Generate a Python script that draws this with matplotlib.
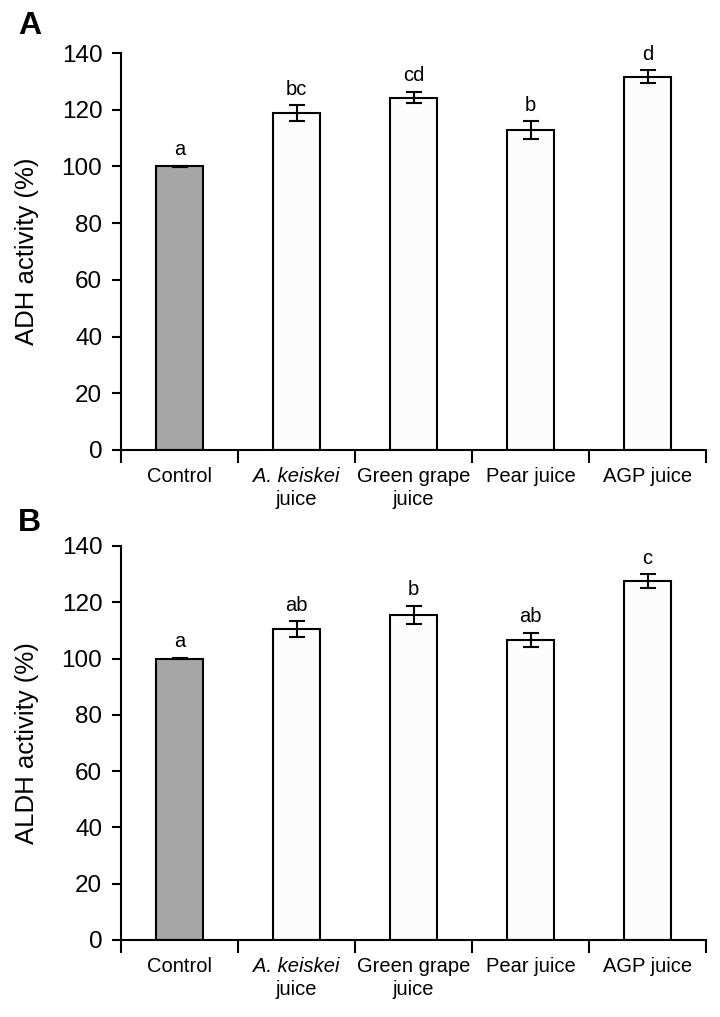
import matplotlib
matplotlib.use('Agg')
import matplotlib.pyplot as plt

plt.rcParams['font.family'] = ['Liberation Sans', 'DejaVu Sans']

categories = ['Control', 'A. keiskei', 'Green grape', 'Pear juice', 'AGP juice']
second_line = ['', 'juice', 'juice', '', '']
italic_first = [False, True, False, False, False]

adh_mean = [100.0, 118.8, 124.3, 112.8, 131.7]
adh_err = [0.3, 2.7, 2.1, 3.1, 2.3]
adh_letters = ['a', 'bc', 'cd', 'b', 'd']

aldh_mean = [100.0, 110.4, 115.5, 106.6, 127.4]
aldh_err = [0.3, 2.9, 3.3, 2.6, 2.5]
aldh_letters = ['a', 'ab', 'b', 'ab', 'c']

bar_colors = ['#a6a6a6', '#fcfcfc', '#fcfcfc', '#fcfcfc', '#fcfcfc']

fig = plt.figure(figsize=(7.2, 10.17), dpi=100)
ax1 = fig.add_axes([121 / 720, 1 - 450 / 1017, 585 / 720, 397 / 1017])
ax2 = fig.add_axes([121 / 720, 1 - 940 / 1017, 585 / 720, 394 / 1017])


def draw_panel(ax, means, errs, letters, ylabel):
    n = len(means)
    centers = [i + 0.5 for i in range(n)]
    ax.bar(centers, means, width=0.41, color=bar_colors, edgecolor='black',
           linewidth=1.5, zorder=2)
    ax.errorbar(centers, means, yerr=errs, fmt='none', ecolor='black',
                elinewidth=1.5, capsize=5.5, capthick=1.5, zorder=3)
    for x, m, e, lab in zip(centers, means, errs, letters):
        ax.annotate(lab, (x, m + e), xytext=(0, 4.5), textcoords='offset points',
                    ha='center', va='bottom', fontsize=14.5)
    ax.set_xlim(0, n)
    ax.set_ylim(0, 140)
    ax.set_yticks(range(0, 141, 20))
    ax.tick_params(axis='y', labelsize=17.5, length=6.5, width=1.5, pad=7)
    ax.set_xticks(range(n + 1))
    ax.set_xticklabels([])
    ax.tick_params(axis='x', which='major', direction='out', length=9, width=1.5)
    ax.spines['top'].set_visible(False)
    ax.spines['right'].set_visible(False)
    ax.spines['left'].set_linewidth(1.5)
    ax.spines['bottom'].set_linewidth(1.5)
    ax.set_ylabel(ylabel, fontsize=18.5)
    ax.yaxis.set_label_coords(-0.14, 0.5)
    for x, t1, t2, it in zip(centers, categories, second_line, italic_first):
        ax.text(x, -0.043, t1, transform=ax.get_xaxis_transform(), ha='center',
                va='top', fontsize=14.5, style='italic' if it else 'normal')
        if t2:
            ax.text(x, -0.102, t2, transform=ax.get_xaxis_transform(), ha='center',
                    va='top', fontsize=14.5)


draw_panel(ax1, adh_mean, adh_err, adh_letters, 'ADH activity (%)')
draw_panel(ax2, aldh_mean, aldh_err, aldh_letters, 'ALDH activity (%)')

fig.text(18 / 720, 1 - 26 / 1017, 'A', fontsize=23, fontweight='bold', va='center')
fig.text(18 / 720, 1 - 523 / 1017, 'B', fontsize=23, fontweight='bold', va='center')

fig.savefig('out.png', dpi=100)
